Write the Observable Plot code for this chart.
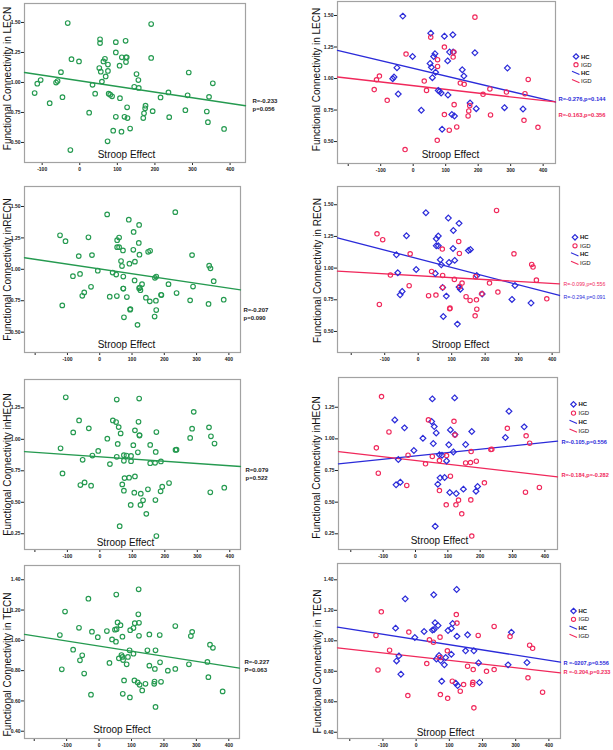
<!DOCTYPE html>
<html><head><meta charset="utf-8">
<script src="https://cdn.jsdelivr.net/npm/d3@7"></script>
<script src="https://cdn.jsdelivr.net/npm/@observablehq/plot@0.6"></script>
<style>
body{margin:0;background:#fff;}
#fig{position:relative;width:613px;height:750px;overflow:hidden;background:#fff;}
#fig > div{position:absolute;}
</style></head><body><div id="fig"></div>
<script>
// ---------- data: [Stroop effect, functional connectivity] ----------
const lecnHC = [[-32,1.495],[54,1.36],[96,1.336],[122,1.347],[190,1.204],[112,1.21],[123,1.21],[67,1.197],[63,1.175],[-2,1.175],[106,1.14],[52,1.12],[56,1.09],[-50,1.086],[69,1.05],[151,1.07],[156,1.02],[290,1.083],[59,1.007],[-59,1.012],[-63,0.999],[77,0.906],[81,0.898],[86,0.885],[107,0.869],[-46,0.877],[175,0.806],[194,0.761],[281,0.769],[338,0.758],[25,0.748],[119,0.714],[127,0.703],[89,0.598]];
const lecnIGD = [[190,1.487],[54,1.328],[96,1.25],[-22,1.194],[125,1.21],[123,1.17],[75,1.149],[75,1.096],[-104,1.02],[-113,0.99],[354,0.993],[-120,0.912],[34,0.98],[41,0.906],[-80,0.827],[145,0.964],[157,0.954],[236,0.917],[287,0.893],[215,0.875],[344,0.88],[126,0.793],[174,0.785],[171,0.743],[169,0.703],[96,0.714],[238,0.711],[341,0.669],[384,0.613],[134,0.616],[111,0.59],[74,0.51],[-25,0.437]];
const recnHC = [[23,1.437],[90,1.395],[122,1.353],[105,1.297],[-35,1.255],[60,1.253],[54,1.232],[54,1.176],[60,1.176],[104,1.155],[150,1.139],[156,1.147],[-65,1.105],[66,1.066],[109,1.061],[92,1.045],[69,1.026],[-6,0.989],[-61,0.963],[51,0.958],[175,0.942],[-48,0.816],[-54,0.789],[73,0.847],[84,0.779],[122,0.85],[126,0.834],[191,0.795],[289,0.863],[280,0.753],[337,0.724],[75,0.618],[117,0.558]];
const recnIGD = [[234,1.455],[-123,1.271],[-106,1.224],[121,1.21],[-24,1.113],[123,1.116],[72,1.15],[286,1.113],[339,1.029],[343,1.008],[40,0.974],[-83,0.945],[73,0.942],[108,0.911],[171,0.932],[353,0.905],[213,0.882],[131,0.882],[124,0.855],[-27,0.861],[73,0.847],[31,0.782],[53,0.787],[143,0.774],[155,0.745],[174,0.75],[190,0.797],[238,0.811],[384,0.758],[-116,0.713],[95,0.684],[94,0.679],[175,0.676],[170,0.624]];
const hecnHC = [[52,1.316],[121,1.324],[289,1.218],[-64,1.15],[50,1.137],[58,1.097],[-34,1.087],[336,1.095],[108,1.071],[174,1.058],[64,1.047],[122,1.034],[278,1.011],[23,1.005],[55,0.963],[103,0.953],[155,0.955],[-5,0.908],[117,0.897],[74,0.874],[82,0.871],[-53,0.837],[96,0.826],[-47,0.658],[-60,0.637],[69,0.642],[76,0.692],[90,0.695],[106,0.576],[126,0.568],[148,0.603],[192,0.624],[187,0.587],[61,0.31]];
const hecnIGD = [[-105,1.334],[40,1.15],[119,1.139],[-82,1.055],[284,1.084],[342,1.024],[353,0.966],[122,1.03],[96,0.868],[-121,0.929],[-23,0.871],[52,0.861],[74,0.829],[172,0.9],[236,0.918],[233,0.916],[31,0.803],[155,0.81],[170,0.813],[188,0.824],[-115,0.729],[108,0.705],[-27,0.632],[74,0.592],[213,0.653],[340,0.579],[383,0.616],[133,0.516],[171,0.518],[95,0.479],[125,0.479],[143,0.408],[174,0.232]];
const tecnHC = [[122,1.337],[53,1.302],[-33,1.275],[57,1.118],[110,1.113],[66,1.1],[-62,1.083],[54,1.074],[49,1.07],[287,1.056],[24,1.061],[96,1.067],[106,1.081],[155,1.039],[123,1.03],[-4,1.021],[149,0.934],[174,0.934],[69,0.903],[106,0.912],[61,0.881],[89,0.89],[-52,0.901],[-59,0.868],[74,0.87],[85,0.842],[188,0.855],[277,0.842],[334,0.857],[-46,0.781],[77,0.735],[191,0.726],[119,0.722],[125,0.706]];
const tecnIGD = [[-105,1.19],[121,1.172],[123,1.116],[235,1.094],[-22,1.057],[-121,1.035],[72,1.024],[187,1.035],[283,1.028],[40,1.006],[52,0.991],[94,0.934],[-80,0.938],[342,0.971],[351,0.951],[72,0.89],[32,0.851],[155,0.833],[172,0.811],[212,0.8],[235,0.811],[-115,0.809],[109,0.735],[143,0.713],[171,0.728],[170,0.713],[133,0.669],[337,0.757],[381,0.663],[-25,0.641],[73,0.647],[95,0.623],[174,0.56]];

// fitted regression lines (end points)
const lecnFitAll = [[-147,1.083],[441,0.806]];
const lecnFitHC  = [[-233,1.223],[438,0.814]];
const lecnFitIGD = [[-233,1.012],[438,0.814]];
const recnFitAll = [[-233,1.092],[436,0.837]];
const recnFitHC  = [[-241,1.239],[422,0.784]];
const recnFitIGD = [[-241,0.976],[422,0.876]];
const hecnFitAll = [[-232,0.903],[433,0.784]];
const hecnFitHC  = [[-238,0.803],[439,0.982]];
const hecnFitIGD = [[-238,0.90],[439,0.70]];
const tecnFitAll = [[-230,1.039],[433,0.816]];
const tecnFitHC  = [[-237,1.089],[435,0.86]];
const tecnFitIGD = [[-237,0.954],[435,0.79]];

// tick values
const xTicksA = [-100,0,100,200,300,400];
const xTicksB = [-200,-100,0,100,200,300,400];
const yTicksA = [0.50,0.75,1.00,1.25,1.50];
const yTicksH = [0.25,0.50,0.75,1.00,1.25];
const yTicksT = [0.40,0.60,0.80,1.00,1.20,1.40];

// text
const xTitle = "Stroop Effect";
const legendLabels = ["HC","IGD","HC","IGD"];

// ---------- layout ----------
const green = "#259a50", blue = "#2b2bd9", red = "#f0285b";
const font = "'Liberation Sans', Arial, Helvetica, sans-serif";
const fig = document.getElementById("fig");
const X = d => d[0], Y = d => d[1];

const panels = [
  {kind:"all", hc:lecnHC, igd:lecnIGD, fit:lecnFitAll, cell:[0,0,306,180], frame:[24,3,245,162], xd:[-147,441], yd:[0.333,1.658], xt:xTicksA, yt:yTicksA,
   yl:"Functional Connectivity in LECN", ylAt:[7,78], stAt:[126,157], r:"R=-0.233\np=0.056", rAt:[252,104]},
  {kind:"grp", hc:lecnHC, igd:lecnIGD, fitHC:lecnFitHC, fitIGD:lecnFitIGD, cell:[306,0,307,180], frame:[337,1,555,163], xd:[-233,438], yd:[0.326,1.611], xt:xTicksB, yt:yTicksA,
   yl:"Functional Connectivity in LECN", ylAt:[316,79], stAt:[450,157], leg:[576,56.5,8.2],
   rTexts:[{t:"R=-0.276,p=0.144", c:blue, at:[558,99], fs:5.8, fw:"bold"},{t:"R=-0.163,p=0.356", c:red, at:[558,115], fs:5.8, fw:"bold"}]},
  {kind:"all", hc:recnHC, igd:recnIGD, fit:recnFitAll, cell:[0,180,306,185], frame:[24,186,240,352], xd:[-233,436], yd:[0.338,1.659], xt:xTicksB, yt:yTicksA,
   yl:"Functional Connectivity inRECN", ylAt:[7,269], stAt:[126,347], r:"R=-0.207\np=0.090", rAt:[243,313]},
  {kind:"grp", hc:recnHC, igd:recnIGD, fitHC:recnFitHC, fitIGD:recnFitIGD, cell:[306,180,307,185], frame:[337,186,559,352], xd:[-241,422], yd:[0.334,1.644], xt:xTicksB, yt:yTicksA,
   yl:"Functional Connectivity in RECN", ylAt:[317,270], stAt:[460,347], leg:[575,237.3,8.5],
   rTexts:[{t:"R=-0.099,p=0.556", c:red, at:[563,284], fs:5.2, fw:"normal"},{t:"R=-0.294,p=0.091", c:blue, at:[563,297], fs:5.2, fw:"normal"}]},
  {kind:"all", hc:hecnHC, igd:hecnIGD, fit:hecnFitAll, cell:[0,365,306,195], frame:[24,379,240,549], xd:[-232,433], yd:[0.125,1.475], xt:xTicksB, yt:yTicksH,
   yl:"Functional Connectivity inHECN", ylAt:[7,464], stAt:[125,545], r:"R=0.079\np=0.522", rAt:[245,472.5]},
  {kind:"grp", hc:hecnHC, igd:hecnIGD, fitHC:hecnFitHC, fitIGD:hecnFitIGD, cell:[306,365,307,195], frame:[338,377,557,549], xd:[-238,439], yd:[0.126,1.485], xt:xTicksB, yt:yTicksH,
   yl:"Functional Connectivity inHECN", ylAt:[316,467], stAt:[439,543.5], leg:[573.5,404.3,8.8],
   rTexts:[{t:"R=-0.105,p=0.556", c:blue, at:[561,442], fs:5.6, fw:"bold"},{t:"R=-0.184,p=-0.282", c:red, at:[561,475], fs:5.6, fw:"bold"}]},
  {kind:"all", hc:tecnHC, igd:tecnIGD, fit:tecnFitAll, cell:[0,560,306,190], frame:[24,565,239,738], xd:[-230,433], yd:[0.352,1.494], xt:xTicksB, yt:yTicksT,
   yl:"Functional Connectivity in TECN", ylAt:[7,664], stAt:[121.5,732], r:"R=-0.227\nP=0.063", rAt:[244,664.5]},
  {kind:"grp", hc:tecnHC, igd:tecnIGD, fitHC:tecnFitHC, fitIGD:tecnFitIGD, cell:[306,560,307,190], frame:[337,563,560,738], xd:[-237,435], yd:[0.359,1.507], xt:xTicksB, yt:yTicksT,
   yl:"Functional Connectivity in TECN", ylAt:[317,661], stAt:[445,735], leg:[573.5,611,8.3],
   rTexts:[{t:"R =-0207,p=0.556", c:blue, at:[563,663], fs:5.6, fw:"bold"},{t:"R =-0.204,p=0.233", c:red, at:[563,672], fs:5.6, fw:"bold"}]}
];

function legendMark(p) {
  const [cl, ct] = p.cell;
  const [lx, ly, gap] = p.leg;
  const x0 = lx - cl, y0 = ly - ct;
  return () => {
    const g = d3.create("svg:g").attr("font-family", font).attr("font-size", 6).attr("fill", "#111").attr("text-anchor", "start");
    g.append("path").attr("transform", `translate(${x0},${y0})`)
      .attr("d", d3.symbol(d3.symbolDiamond2, 19)()).attr("fill", "none").attr("stroke", blue).attr("stroke-width", 1.2);
    g.append("circle").attr("cx", x0).attr("cy", y0 + gap).attr("r", 2.1)
      .attr("fill", "none").attr("stroke", red).attr("stroke-width", 1.1);
    g.append("line").attr("x1", x0 - 4).attr("y1", y0 + 2*gap - 1.6).attr("x2", x0 + 3.5).attr("y2", y0 + 2*gap + 1.6)
      .attr("stroke", blue).attr("stroke-width", 1.1);
    g.append("line").attr("x1", x0 - 4).attr("y1", y0 + 3*gap - 1.6).attr("x2", x0 + 3.5).attr("y2", y0 + 3*gap + 1.6)
      .attr("stroke", red).attr("stroke-width", 1.1);
    legendLabels.forEach((t, i) => {
      g.append("text").attr("x", x0 + 5).attr("y", y0 + i*gap).attr("dy", "0.35em")
        .attr("text-anchor", "start")
        .attr("font-weight", t === "HC" ? "bold" : "normal").text(t);
    });
    return g.node();
  };
}

for (const p of panels) {
  const [cl, ct, cw, ch] = p.cell;
  const [fl, ft, fr, fb] = p.frame;
  const at = (ax, ay) => ({frameAnchor: "top-left", dx: ax - fl, dy: ay - ft});
  const marks = [Plot.frame({stroke: "#a2a2a2", strokeWidth: 1.2})];
  if (p.kind === "all") {
    marks.push(Plot.line(p.fit, {x: X, y: Y, stroke: green, strokeWidth: 1.3}));
    marks.push(Plot.dot(p.hc.concat(p.igd), {x: X, y: Y, r: 2.3, stroke: green, strokeWidth: 1.15, fill: "none"}));
    marks.push(Plot.text([p.r], {text: d => d, ...at(p.rAt[0], p.rAt[1]), textAnchor: "start", lineAnchor: "middle",
      lineHeight: 1.4, fontSize: 6, fontWeight: "bold", fill: "#222", fontFamily: font}));
  } else {
    marks.push(Plot.line(p.fitHC, {x: X, y: Y, stroke: blue, strokeWidth: 1.3}));
    marks.push(Plot.line(p.fitIGD, {x: X, y: Y, stroke: red, strokeWidth: 1.3}));
    marks.push(Plot.dot(p.hc, {x: X, y: Y, symbol: "diamond2", r: 2.6, stroke: blue, strokeWidth: 1.2, fill: "none"}));
    marks.push(Plot.dot(p.igd, {x: X, y: Y, r: 2.2, stroke: red, strokeWidth: 1.15, fill: "none"}));
    for (const rt of p.rTexts) {
      marks.push(Plot.text([rt.t], {text: d => d, ...at(rt.at[0], rt.at[1]), textAnchor: "start", lineAnchor: "middle",
        fontSize: rt.fs, fontWeight: rt.fw, fill: rt.c, fontFamily: font}));
    }
    marks.push(legendMark(p));
  }
  marks.push(Plot.text([xTitle], {text: d => d, ...at(p.stAt[0], p.stAt[1]), textAnchor: "middle", lineAnchor: "bottom",
    fontSize: 10, fontWeight: "normal", fill: "#111", fontFamily: font}));
  marks.push(Plot.text([p.yl], {text: d => d, ...at(p.ylAt[0], p.ylAt[1]), rotate: -90, textAnchor: "middle", lineAnchor: "middle",
    fontSize: 10, fontWeight: "normal", fill: "#111", fontFamily: font}));

  const chart = Plot.plot({
    width: cw, height: ch,
    marginLeft: fl - cl, marginTop: ft - ct, marginRight: cl + cw - fr, marginBottom: ct + ch - fb,
    x: {domain: p.xd, ticks: p.xt, tickFormat: d => d === -200 ? "" : String(d), tickSize: 3, tickPadding: 1.5, label: null},
    y: {domain: p.yd, ticks: p.yt, tickFormat: d3.format(".2f"), tickSize: 3, tickPadding: 1, label: null},
    style: {fontFamily: font, fontSize: "5px", fontWeight: "bold", background: "transparent", overflow: "visible", color: "#222"},
    marks
  });
  const div = document.createElement("div");
  div.style.left = cl + "px";
  div.style.top = ct + "px";
  div.appendChild(chart);
  fig.appendChild(div);
}
</script></body></html>
